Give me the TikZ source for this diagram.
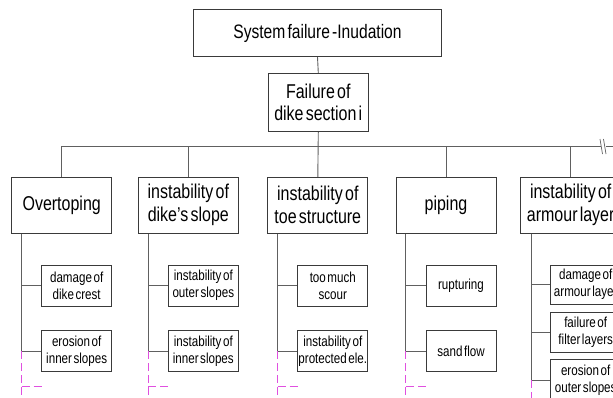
\documentclass[tikz,border=0pt]{standalone}
\usepackage{fontspec}
\setmainfont{Liberation Sans}[FakeStretch=0.8, WordSpace=0.5]
\usetikzlibrary{calc}
\definecolor{boxline}{HTML}{3A3A3A}
\definecolor{conline}{HTML}{606060}
\definecolor{magline}{HTML}{E050E0}
\tikzset{
  base/.style={draw=boxline, line width=0.9pt, fill=white, inner sep=0pt, align=center, text=black},
  topbox/.style={base, minimum width=248pt, minimum height=46.7pt, font=\fontsize{19.5}{22}\selectfont},
  midbox/.style={base, minimum width=100pt, minimum height=58.4pt, font=\fontsize{20}{22}\selectfont},
  lvbox/.style={base, minimum width=100pt, minimum height=56pt, font=\fontsize{20}{23}\selectfont},
  subbox/.style={base, minimum width=70pt, minimum height=41.5pt, font=\fontsize{14.5}{17}\selectfont},
  con/.style={draw=conline, line width=0.9pt},
  magdash/.style={draw=magline, line width=0.9pt, dash pattern=on 8pt off 4pt},
}
\begin{document}
\begin{tikzpicture}[x=1pt, y=-1pt]
\useasboundingbox (0,0) rectangle (613,398);
\clip (0,0) rectangle (613,398);
\fill[white] (0,0) rectangle (613,398);

% nodes
\node[topbox] (top) at (317.5,33.3) {System failure -Inudation};
\node[midbox] (fail) at (318.3,102.5) {Failure of\\dike section i};

\node[lvbox] (b1) at (61.7,205.3) {Overtoping};
\node[lvbox] (b2) at (188.3,205.3) {instability of\\dike's slope};
\node[lvbox] (b3) at (317.8,205.3) {instability of\\toe structure};
\node[lvbox] (b4) at (446,205.3) {piping};
\node[lvbox] (b5) at (570.7,205.3) {instability of\\armour layer};

\node[subbox] (s11) at (76.7,285.7) {damage of\\dike crest};
\node[subbox] (s12) at (76.7,351) {erosion of\\inner slopes};
\node[subbox] (s21) at (203.3,285.7) {instability of\\outer slopes};
\node[subbox] (s22) at (203.3,351) {instability of\\inner slopes};
\node[subbox] (s31) at (332.8,285.7) {too much\\scour};
\node[subbox] (s32) at (332.8,351) {instability of\\protected ele.};
\node[subbox] (s41) at (461,285.7) {rupturing};
\node[subbox] (s42) at (461,351) {sand flow};
\node[subbox, minimum height=39pt] (s51) at (585.7,284.5) {damage of\\armour layer};
\node[subbox, minimum height=40pt] (s52) at (585.7,332) {failure of\\filter layers};
\node[subbox, minimum height=42pt] (s53) at (585.7,380) {erosion of\\outer slopes};

% coordinates
\coordinate (busend) at (613,146.7);
\coordinate (bottom) at (0,398);
\coordinate (hmag) at (0,386);

% top connectors
\draw[con] (top.south) -- (fail.north);
\draw[con] (fail.south) -- (b3.north);
\draw[con] (b1.north) |- (busend);
\foreach \b in {b2,b4,b5}{
  \draw[con] (\b.north) -- (\b.north |- busend);
}
% break mark on the bus
\coordinate (brk1a) at (600,139);
\coordinate (brk1b) at (602.5,154);
\coordinate (brk2a) at (603.5,139);
\coordinate (brk2b) at (606,154);
\fill[white] (600.5,143) rectangle (605.5,150);
\draw[con, line width=0.7pt] (brk1a) -- (brk1b);
\draw[con, line width=0.7pt] (brk2a) -- (brk2b);

% spines
\foreach \b/\i in {b1/1,b2/2,b3/3,b4/4}{
  \coordinate (sp\i) at ([xshift=10.3pt]\b.south west);
  \draw[con] (sp\i) |- (s\i1.west);
  \draw[con] (sp\i) |- (s\i2.west);
  \draw[magdash] (sp\i |- s\i2.west) -- (sp\i |- bottom);
  \draw[magdash] (sp\i |- hmag) -- ++(22,0);
}
\coordinate (sp5) at ([xshift=11pt]b5.south west);
\draw[con] (sp5) |- (s51.west);
\draw[con] (sp5) |- (s52.west);
\draw[con] (sp5) |- (s53.west);
\draw[magdash] (sp5 |- s53.west) -- (sp5 |- bottom);
\end{tikzpicture}
\end{document}
